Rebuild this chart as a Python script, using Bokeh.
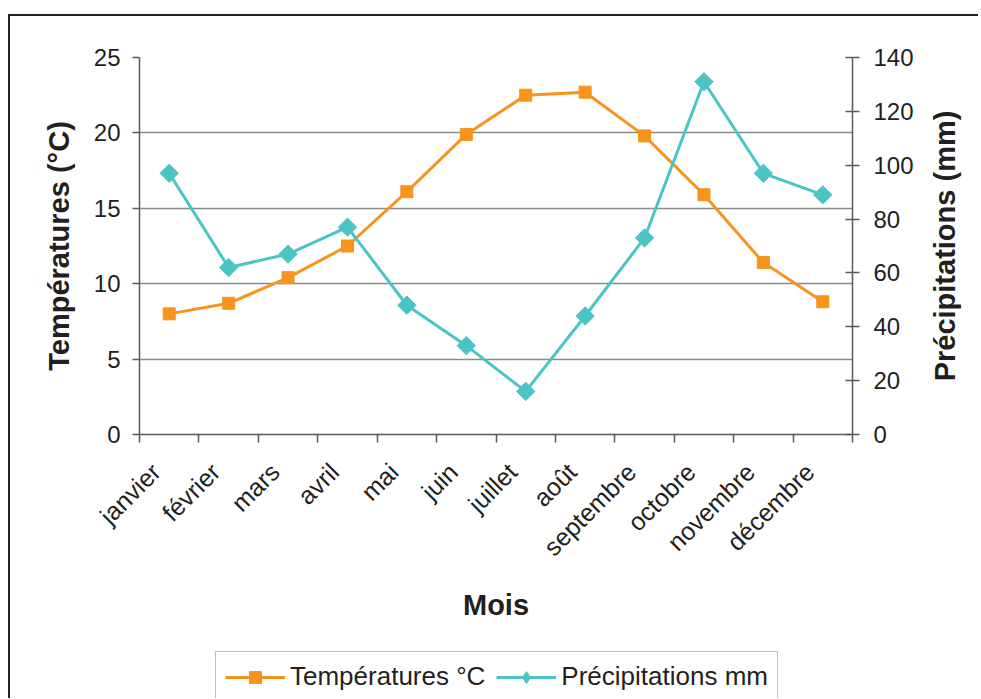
from math import pi
from bokeh.plotting import figure
from bokeh.layouts import column, row
from bokeh.models import (Range1d, LinearAxis, FixedTicker, Legend, LegendItem)
from bokeh.embed import file_html
from bokeh.resources import INLINE

months = ["janvier", "février", "mars", "avril", "mai", "juin", "juillet",
          "août", "septembre", "octobre", "novembre", "décembre"]
temperatures = [8.0, 8.7, 10.4, 12.5, 16.1, 19.9, 22.5, 22.7, 19.8, 15.9, 11.4, 8.8]
precipitations = [97, 62, 67, 77, 48, 33, 16, 44, 73, 131, 97, 89]
temp_ticks = [0, 5, 10, 15, 20, 25]
precip_ticks = [0, 20, 40, 60, 80, 100, 120, 140]
series_names = ["Températures °C", "Précipitations mm"]

FONT = "Liberation Sans"
ORANGE = "#F7941D"
CYAN = "#4BC4C6"
AXIS_COL = "#5A5A5A"
TXT = "#231F20"
TITLE_SIZE = "29px"

n = len(months)
xs = [i + 0.5 for i in range(n)]
label_pos = [x - 0.22 for x in xs]   # rotated labels end a little left of the centre

p = figure(width=906, height=629, output_backend="svg", toolbar_location=None,
           x_range=Range1d(0, n), y_range=Range1d(0, 25),
           min_border_left=129, min_border_top=41, min_border_right=63,
           min_border_bottom=211)
p.outline_line_color = None
p.background_fill_color = "white"
p.border_fill_color = "white"

p.extra_y_ranges = {"precip": Range1d(0, 140)}

# x axis
xa = p.xaxis[0]
xa.ticker = FixedTicker(ticks=label_pos, minor_ticks=list(range(n + 1)))
xa.major_label_overrides = {x: m for x, m in zip(label_pos, months)}
xa.major_tick_line_color = None
xa.minor_tick_line_color = AXIS_COL
xa.minor_tick_line_width = 1.5
xa.minor_tick_out = 8
xa.minor_tick_in = 0
xa.axis_line_color = AXIS_COL
xa.axis_line_width = 1.5
xa.major_label_orientation = pi / 4
xa.major_label_text_font = FONT
xa.major_label_text_font_size = "25px"
xa.major_label_text_color = TXT
xa.major_label_standoff = 25
xa.axis_label = "Mois"
xa.axis_label_text_font = FONT
xa.axis_label_text_font_size = TITLE_SIZE
xa.axis_label_text_font_style = "bold"
xa.axis_label_text_color = TXT
xa.axis_label_standoff = 15

# left axis
ya = p.yaxis[0]
ya.ticker = FixedTicker(ticks=temp_ticks)
ya.minor_tick_line_color = None
ya.major_tick_out = 7
ya.major_tick_in = 0
ya.major_tick_line_color = AXIS_COL
ya.major_tick_line_width = 1.5
ya.axis_line_color = AXIS_COL
ya.axis_line_width = 1.5
ya.major_label_text_font = FONT
ya.major_label_text_font_size = "24px"
ya.major_label_text_color = TXT
ya.major_label_standoff = 12
ya.axis_label = "Températures (°C)"
ya.axis_label_text_font = FONT
ya.axis_label_text_font_size = TITLE_SIZE
ya.axis_label_text_font_style = "bold"
ya.axis_label_text_color = TXT
ya.axis_label_standoff = 16

# right axis (its title is drawn by the narrow strip on the right)
ra = LinearAxis(y_range_name="precip", ticker=FixedTicker(ticks=precip_ticks))
ra.minor_tick_line_color = None
ra.major_tick_out = 7
ra.major_tick_in = 7
ra.major_tick_line_color = AXIS_COL
ra.major_tick_line_width = 1.5
ra.axis_line_color = AXIS_COL
ra.axis_line_width = 1.5
ra.major_label_text_font = FONT
ra.major_label_text_font_size = "24px"
ra.major_label_text_color = TXT
ra.major_label_standoff = 14
p.add_layout(ra, "right")

# grid
p.xgrid.grid_line_color = None
p.ygrid.ticker = FixedTicker(ticks=temp_ticks)
p.ygrid.grid_line_color = "#8A8A8A"
p.ygrid.grid_line_width = 1.5

# series
p.line(xs, temperatures, line_color=ORANGE, line_width=3)
p.scatter(xs, temperatures, marker="square", size=12, fill_color=ORANGE,
          line_color=ORANGE)
p.line(xs, precipitations, line_color=CYAN, line_width=3, y_range_name="precip")
p.scatter(xs, precipitations, marker="square", angle=pi / 4, size=13,
          fill_color=CYAN, line_color=CYAN, y_range_name="precip")

# right title strip: a left-side axis label reads bottom-to-top like the original
r = figure(width=62, height=629, output_backend="svg", toolbar_location=None,
           x_range=Range1d(0, 1), y_range=Range1d(0, 140), x_axis_location=None,
           min_border_left=50, min_border_right=0, min_border_top=41,
           min_border_bottom=211)
r.grid.visible = False
r.outline_line_color = None
r.border_fill_color = "white"
r.background_fill_color = "white"
rax = r.yaxis[0]
rax.ticker = FixedTicker(ticks=[])
rax.axis_line_color = None
rax.major_tick_line_color = None
rax.minor_tick_line_color = None
rax.axis_label = "Précipitations (mm)"
rax.axis_label_text_font = FONT
rax.axis_label_text_font_size = TITLE_SIZE
rax.axis_label_text_font_style = "bold"
rax.axis_label_text_color = TXT
rax.axis_label_standoff = 6

# legend strip (separate figure so the box is not clipped by the chart frame)
q = figure(width=968, height=53, output_backend="svg", toolbar_location=None,
           x_range=Range1d(-2, -1), y_range=Range1d(-2, -1),
           x_axis_location=None, y_axis_location=None,
           min_border_left=129, min_border_right=125, min_border_top=0,
           min_border_bottom=0)
q.grid.visible = False
q.outline_line_color = None
q.background_fill_color = "white"
q.border_fill_color = "white"
l1 = q.line(xs, temperatures, line_color=ORANGE, line_width=3)
m1 = q.scatter(xs, temperatures, marker="square", fill_color=ORANGE, line_color=ORANGE)
l2 = q.line(xs, precipitations, line_color=CYAN, line_width=3)
m2 = q.scatter(xs, precipitations, marker="diamond", fill_color=CYAN, line_color=CYAN)

legend = Legend(items=[LegendItem(label=series_names[0], renderers=[l1, m1]),
                       LegendItem(label=series_names[1], renderers=[l2, m2])],
                orientation="horizontal", location=(76, -4))
legend.label_text_font = FONT
legend.label_text_font_size = "26px"
legend.label_text_color = TXT
legend.glyph_width = 60
legend.glyph_height = 30
legend.spacing = 11
legend.padding = 9
legend.label_standoff = 5
legend.border_line_color = "#808080"
legend.border_line_width = 1.5
legend.background_fill_color = "white"
legend.margin = 0
q.add_layout(legend, "center")

layout = column(row(p, r), q)
layout.margin = (14, 0, 0, 8)
layout.styles = {"border-top": "2px solid #222222", "border-left": "2px solid #222222"}

open("out.html", "w").write(file_html(layout, INLINE))
